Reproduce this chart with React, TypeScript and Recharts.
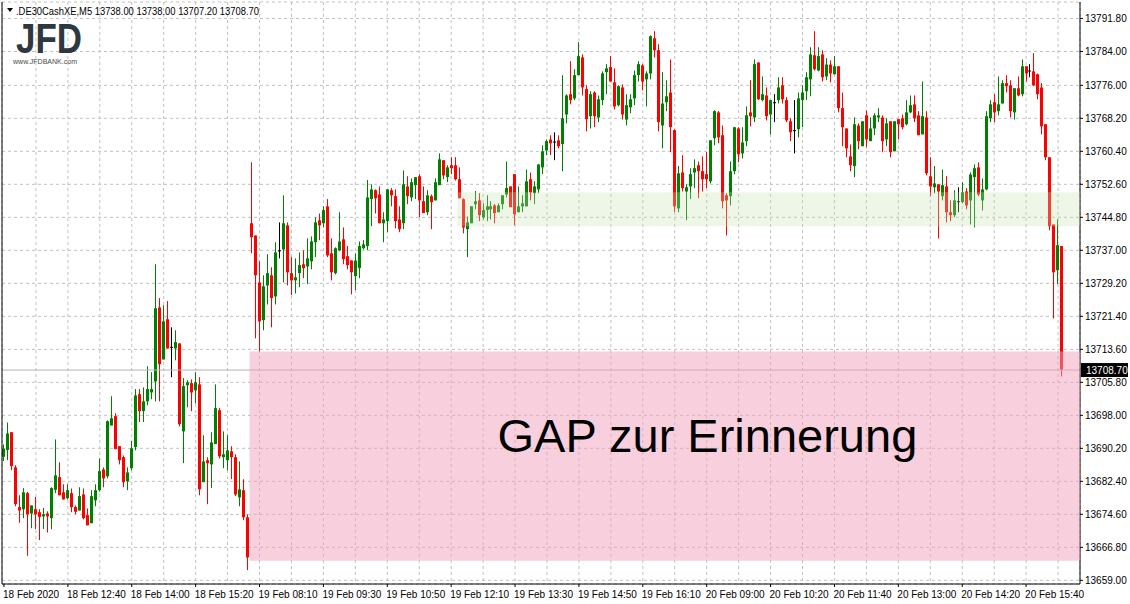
import React from 'react';
import { ComposedChart, Bar, XAxis, YAxis, CartesianGrid, ReferenceArea, ReferenceLine } from 'recharts';

// .DE30CashXE M5 candles, 18 Feb 2020 -> 20 Feb 2020 16:25
const openPrices = [
  13688.2, 13689.8, 13694.0, 13685.7, 13676.3, 13675.8, 13679.6, 13674.8, 13675.8, 13675.1,
  13674.1, 13674.8, 13673.7, 13680.4, 13683.4, 13679.8, 13678.4, 13679.6, 13676.3, 13675.5,
  13679.3, 13674.4, 13672.5, 13677.9, 13680.3, 13685.2, 13683.6, 13695.6, 13697.8, 13690.7,
  13688.1, 13682.4, 13685.5, 13690.5, 13703.0, 13699.0, 13701.3, 13703.4, 13706.0, 13723.5,
  13711.2, 13720.7, 13714.2, 13713.8, 13715.0, 13694.2, 13705.1, 13705.6, 13703.9, 13705.3,
  13682.2, 13687.4, 13686.4, 13691.2, 13699.2, 13688.1, 13687.4, 13689.5, 13688.1, 13678.6,
  13680.3, 13673.9, 13743.4, 13740.5, 13729.4, 13720.5, 13728.7, 13731.1, 13726.1, 13737.0,
  13737.2, 13742.9, 13731.6, 13729.9, 13731.6, 13733.7, 13733.2, 13734.4, 13738.9, 13744.1,
  13743.4, 13747.4, 13736.3, 13731.6, 13737.0, 13739.6, 13735.6, 13734.6, 13730.9, 13732.8,
  13737.5, 13738.0, 13749.1, 13751.2, 13750.2, 13743.4, 13743.9, 13751.2, 13749.8, 13744.3,
  13743.4, 13752.1, 13749.5, 13752.4, 13754.5, 13748.6, 13746.0, 13749.8, 13748.8, 13752.4,
  13758.3, 13754.3, 13757.1, 13757.1, 13753.8, 13749.1, 13742.0, 13743.4, 13747.9, 13748.8,
  13744.8, 13746.5, 13746.7, 13747.6, 13746.0, 13747.9, 13750.2, 13752.1, 13755.0, 13746.0,
  13747.4, 13747.4, 13753.8, 13750.5, 13751.4, 13756.6, 13760.6, 13763.2, 13762.7, 13763.0,
  13762.1, 13769.1, 13773.9, 13772.9, 13778.4, 13782.6, 13775.1, 13768.7, 13774.3, 13768.4,
  13772.5, 13779.1, 13780.3, 13776.7, 13771.3, 13775.5, 13767.9, 13770.8, 13772.9, 13778.4,
  13780.7, 13777.4, 13778.8, 13787.1, 13784.3, 13766.5, 13772.0, 13774.3, 13765.4, 13746.9,
  13755.4, 13750.9, 13752.1, 13755.4, 13757.1, 13755.7, 13755.0, 13753.3, 13763.5, 13769.6,
  13764.2, 13750.0, 13749.8, 13755.7, 13765.8, 13759.9, 13762.8, 13769.6, 13768.4, 13781.4,
  13772.5, 13773.6, 13769.1, 13772.0, 13772.5, 13776.0, 13772.5, 13767.5, 13765.4, 13765.6,
  13772.5, 13774.6, 13777.4, 13783.1, 13779.5, 13783.3, 13778.1, 13780.9, 13778.6, 13780.5,
  13770.6, 13765.8, 13759.2, 13756.9, 13766.5, 13761.6, 13768.9, 13762.8, 13765.8, 13768.4,
  13768.4, 13763.2, 13767.5, 13760.4, 13768.0, 13768.2, 13766.8, 13769.6, 13771.5, 13768.9,
  13764.4, 13768.4, 13754.5, 13751.9, 13752.6, 13749.8, 13752.1, 13746.0, 13745.3, 13748.6,
  13748.4, 13750.9, 13748.8, 13754.3, 13756.6, 13748.8, 13751.4, 13768.2, 13772.0, 13769.9,
  13771.7, 13776.5, 13776.0, 13769.6, 13775.3, 13773.9, 13780.5, 13779.5, 13779.3, 13778.6,
  13775.5, 13766.8, 13759.0, 13743.1, 13732.3, 13738.0,
];

const highPrices = [
  13691.1, 13696.3, 13694.0, 13686.2, 13679.1, 13680.8, 13679.9, 13676.7, 13678.7, 13675.8,
  13676.1, 13675.3, 13681.0, 13692.3, 13686.9, 13681.7, 13681.7, 13680.7, 13676.7, 13681.0,
  13680.7, 13676.0, 13680.3, 13681.7, 13687.8, 13685.7, 13696.8, 13702.5, 13698.5, 13690.7,
  13688.5, 13685.7, 13691.9, 13704.2, 13704.2, 13704.6, 13709.6, 13708.2, 13733.7, 13725.7,
  13724.0, 13725.0, 13718.8, 13718.1, 13715.0, 13706.8, 13706.3, 13706.5, 13708.2, 13707.0,
  13693.3, 13688.1, 13694.0, 13705.3, 13699.7, 13694.2, 13693.3, 13690.7, 13688.8, 13687.1,
  13682.9, 13674.6, 13757.8, 13740.5, 13734.4, 13731.1, 13736.1, 13733.0, 13738.9, 13743.6,
  13750.0, 13743.6, 13735.4, 13735.1, 13736.5, 13737.0, 13739.8, 13740.3, 13744.8, 13745.7,
  13747.4, 13749.1, 13739.8, 13737.7, 13746.0, 13742.4, 13738.0, 13734.6, 13736.3, 13739.1,
  13739.4, 13753.6, 13752.6, 13751.4, 13752.1, 13746.0, 13751.4, 13751.7, 13751.4, 13747.4,
  13755.9, 13754.5, 13754.0, 13754.3, 13755.0, 13752.1, 13751.2, 13750.2, 13754.0, 13759.9,
  13758.3, 13757.1, 13759.0, 13759.0, 13756.6, 13749.3, 13745.0, 13747.4, 13751.0, 13750.5,
  13748.1, 13750.0, 13748.6, 13747.9, 13748.1, 13750.0, 13758.0, 13752.1, 13755.0, 13752.1,
  13750.0, 13756.1, 13755.4, 13753.3, 13757.3, 13761.8, 13763.2, 13764.2, 13764.9, 13764.2,
  13778.4, 13773.9, 13781.7, 13779.8, 13786.2, 13783.3, 13776.0, 13774.6, 13774.6, 13773.6,
  13779.3, 13781.0, 13782.9, 13780.0, 13776.0, 13776.2, 13773.9, 13773.9, 13779.5, 13781.7,
  13781.0, 13779.3, 13787.8, 13788.8, 13785.7, 13779.1, 13777.2, 13782.1, 13765.6, 13756.9,
  13759.5, 13752.6, 13756.4, 13758.5, 13758.0, 13759.2, 13760.2, 13763.0, 13770.1, 13769.9,
  13766.5, 13750.5, 13758.0, 13766.1, 13766.1, 13766.1, 13771.0, 13777.2, 13782.1, 13781.4,
  13778.1, 13775.5, 13772.5, 13773.9, 13777.9, 13777.9, 13773.2, 13768.2, 13772.5, 13774.3,
  13776.0, 13779.1, 13785.0, 13788.8, 13785.0, 13784.3, 13782.4, 13781.9, 13782.9, 13780.5,
  13774.3, 13765.8, 13762.0, 13768.4, 13767.0, 13767.5, 13770.1, 13768.4, 13769.4, 13770.6,
  13768.9, 13768.2, 13767.5, 13767.5, 13768.0, 13769.1, 13772.5, 13773.6, 13773.6, 13769.9,
  13776.9, 13769.9, 13759.0, 13756.9, 13752.6, 13756.1, 13754.5, 13748.8, 13751.2, 13751.9,
  13753.1, 13751.7, 13755.4, 13757.3, 13757.8, 13754.0, 13769.9, 13772.5, 13773.9, 13778.1,
  13777.2, 13778.4, 13777.2, 13775.3, 13778.1, 13782.1, 13780.5, 13781.0, 13783.6, 13778.8,
  13776.5, 13766.8, 13759.0, 13743.1, 13744.3, 13738.0,
];

const lowPrices = [
  13687.2, 13687.4, 13685.0, 13676.5, 13672.6, 13673.7, 13664.8, 13671.3, 13671.1, 13668.5,
  13671.1, 13670.3, 13671.1, 13679.6, 13679.1, 13678.1, 13678.1, 13675.1, 13674.6, 13675.5,
  13673.4, 13672.0, 13672.5, 13676.5, 13680.0, 13681.0, 13683.1, 13695.6, 13690.0, 13686.4,
  13681.0, 13680.3, 13685.0, 13689.7, 13696.4, 13696.4, 13700.4, 13701.8, 13701.3, 13701.3,
  13711.2, 13713.8, 13707.0, 13711.0, 13695.4, 13686.7, 13699.9, 13699.0, 13700.8, 13679.1,
  13682.2, 13677.0, 13680.8, 13691.2, 13687.8, 13685.5, 13685.0, 13682.9, 13678.9, 13676.5,
  13673.2, 13661.4, 13736.3, 13716.2, 13713.1, 13718.1, 13724.2, 13718.8, 13724.2, 13735.1,
  13729.4, 13728.7, 13726.4, 13726.8, 13728.3, 13730.4, 13729.0, 13732.5, 13735.4, 13739.4,
  13742.4, 13735.4, 13729.9, 13731.3, 13736.8, 13733.7, 13732.5, 13726.6, 13727.6, 13730.4,
  13737.2, 13737.0, 13742.7, 13745.7, 13743.4, 13738.9, 13741.3, 13747.4, 13742.2, 13741.3,
  13742.0, 13747.9, 13748.6, 13749.1, 13744.8, 13745.8, 13745.3, 13742.0, 13748.8, 13752.4,
  13753.8, 13753.1, 13755.0, 13753.5, 13749.3, 13741.0, 13735.4, 13743.4, 13746.7, 13743.9,
  13744.3, 13743.9, 13744.3, 13743.4, 13746.0, 13746.7, 13749.5, 13747.2, 13742.9, 13746.0,
  13746.0, 13747.4, 13748.8, 13747.9, 13750.5, 13755.0, 13759.5, 13759.5, 13758.3, 13761.1,
  13755.7, 13767.0, 13771.5, 13772.5, 13778.4, 13773.6, 13765.1, 13765.8, 13766.1, 13767.3,
  13771.3, 13773.9, 13776.9, 13770.3, 13771.0, 13767.9, 13766.5, 13769.4, 13771.3, 13776.9,
  13774.8, 13771.0, 13777.4, 13782.6, 13765.1, 13761.1, 13769.9, 13760.2, 13746.0, 13746.0,
  13750.9, 13744.1, 13749.1, 13751.7, 13749.3, 13750.9, 13751.7, 13752.8, 13761.8, 13762.3,
  13746.9, 13740.5, 13747.6, 13755.0, 13757.8, 13758.7, 13761.6, 13766.3, 13767.3, 13772.5,
  13772.2, 13767.7, 13764.4, 13767.3, 13771.7, 13771.7, 13767.3, 13762.8, 13759.9, 13763.7,
  13766.1, 13772.5, 13773.4, 13779.5, 13779.3, 13776.9, 13777.2, 13776.7, 13778.6, 13769.6,
  13761.6, 13759.0, 13755.7, 13754.3, 13760.9, 13761.6, 13761.4, 13762.8, 13764.2, 13767.3,
  13760.2, 13761.6, 13759.0, 13760.4, 13763.2, 13765.6, 13766.5, 13769.4, 13767.3, 13764.2,
  13764.4, 13754.7, 13749.8, 13750.5, 13739.8, 13748.8, 13743.6, 13743.9, 13744.8, 13746.0,
  13748.1, 13746.7, 13743.1, 13742.4, 13749.8, 13746.4, 13751.2, 13767.3, 13767.3, 13768.9,
  13771.7, 13774.3, 13768.4, 13767.9, 13773.4, 13773.4, 13776.9, 13777.9, 13775.8, 13772.7,
  13764.4, 13758.3, 13741.7, 13720.9, 13729.0, 13707.2,
];

const closePrices = [
  13690.1, 13693.7, 13686.0, 13677.0, 13675.5, 13679.8, 13674.6, 13676.7, 13674.6, 13674.0,
  13674.6, 13674.1, 13680.8, 13683.8, 13679.1, 13678.1, 13680.3, 13676.3, 13675.2, 13678.9,
  13673.7, 13672.0, 13678.9, 13680.3, 13684.8, 13683.1, 13696.6, 13697.3, 13690.0, 13687.4,
  13682.2, 13684.5, 13690.2, 13702.7, 13699.0, 13701.3, 13704.2, 13704.2, 13723.3, 13710.1,
  13720.2, 13713.8, 13714.2, 13715.3, 13695.9, 13704.9, 13705.8, 13703.4, 13705.8, 13680.5,
  13687.1, 13686.7, 13691.6, 13699.7, 13688.3, 13688.8, 13689.7, 13688.1, 13679.3, 13680.5,
  13673.9, 13664.4, 13740.1, 13731.1, 13720.2, 13728.5, 13731.6, 13725.7, 13736.5, 13737.0,
  13743.4, 13731.8, 13729.9, 13730.6, 13733.5, 13732.8, 13735.1, 13739.1, 13743.6, 13742.9,
  13746.5, 13735.8, 13731.8, 13737.5, 13739.1, 13734.9, 13733.5, 13731.8, 13734.6, 13738.0,
  13738.4, 13749.5, 13751.4, 13749.3, 13743.4, 13744.3, 13751.4, 13750.0, 13743.9, 13742.0,
  13752.6, 13749.8, 13753.1, 13754.3, 13748.8, 13745.8, 13750.0, 13748.4, 13753.1, 13758.5,
  13754.7, 13756.6, 13756.4, 13753.8, 13749.3, 13742.4, 13743.6, 13747.4, 13748.6, 13745.3,
  13746.5, 13747.4, 13747.4, 13745.8, 13747.6, 13750.0, 13751.7, 13747.2, 13745.5, 13747.4,
  13748.1, 13753.3, 13750.7, 13752.1, 13757.3, 13760.4, 13762.8, 13762.3, 13762.7, 13761.6,
  13768.2, 13773.6, 13772.5, 13778.4, 13782.9, 13775.5, 13768.0, 13773.9, 13768.7, 13772.7,
  13778.8, 13780.0, 13776.9, 13771.0, 13775.8, 13769.1, 13771.3, 13772.7, 13778.4, 13781.0,
  13776.9, 13778.8, 13787.6, 13784.3, 13767.3, 13771.7, 13773.4, 13766.1, 13747.4, 13755.2,
  13751.7, 13751.9, 13755.0, 13756.4, 13755.7, 13753.8, 13753.8, 13763.0, 13769.9, 13763.7,
  13748.6, 13748.8, 13755.7, 13766.1, 13759.7, 13762.5, 13768.9, 13768.7, 13781.0, 13772.7,
  13773.9, 13768.7, 13772.5, 13772.0, 13775.5, 13772.7, 13767.7, 13764.9, 13765.4, 13772.9,
  13774.3, 13777.9, 13783.3, 13779.8, 13782.9, 13777.9, 13780.9, 13778.8, 13780.5, 13770.6,
  13766.1, 13761.1, 13757.1, 13766.8, 13762.8, 13767.5, 13763.2, 13765.8, 13768.9, 13768.9,
  13762.8, 13767.0, 13760.2, 13767.5, 13766.8, 13766.1, 13769.6, 13771.3, 13768.2, 13764.2,
  13768.7, 13755.2, 13752.1, 13752.8, 13750.9, 13752.4, 13746.0, 13745.3, 13748.8, 13748.6,
  13750.7, 13747.6, 13754.9, 13756.4, 13750.2, 13751.4, 13768.7, 13771.5, 13769.6, 13771.5,
  13776.5, 13775.8, 13769.9, 13775.3, 13773.6, 13780.5, 13778.8, 13779.5, 13776.0, 13773.9,
  13766.3, 13759.0, 13742.7, 13731.8, 13738.2, 13708.7,
];

// one label every 16 candles
const timeLabels = [
  '18 Feb 2020', '18 Feb 12:40', '18 Feb 14:00', '18 Feb 15:20', '19 Feb 08:10', '19 Feb 09:30',
  '19 Feb 10:50', '19 Feb 12:10', '19 Feb 13:30', '19 Feb 14:50', '19 Feb 16:10', '20 Feb 09:00',
  '20 Feb 10:20', '20 Feb 11:40', '20 Feb 13:00', '20 Feb 14:20', '20 Feb 15:40',
];

const priceTicks = [
  13659.0, 13666.8, 13674.6, 13682.4, 13690.2, 13698.0, 13705.8, 13713.6, 13721.4,
  13729.2, 13737.0, 13744.8, 13752.6, 13760.4, 13768.2, 13776.0, 13784.0, 13791.8,
];

const priceDomain = [13658.13, 13795.69];
const lastPrice = 13708.7;
const gapZone = [13663.6, 13713.1];
const gapStart = 62;
const greenZone = [13742.7, 13750.7];
const greenStart = 114;
const emptySlots = 4;

const data = [
  ...openPrices.map((o, i) => ({ i, o, h: highPrices[i], l: lowPrices[i], c: closePrices[i] })),
  ...Array.from({ length: emptySlots }, (_, k) => ({ i: openPrices.length + k })),
];

// vertical grid every 8 candles
const gridIdx = Array.from({ length: 33 }, (_, k) => (k + 1) * 8);
const labelIdx = timeLabels.map((_, k) => k * 16);

const FONT = '"Liberation Sans", Arial, sans-serif';

const Candle = (props: any) => {
  const { x, y, width, height, payload } = props;
  if (!payload || payload.o == null) return null;
  const { o, h, l, c } = payload;
  const top0 = Math.min(y, y + height);
  const span = Math.abs(height);
  const ppu = h > l ? span / (h - l) : 0;
  const cx = Math.floor(x + width / 2) + 0.5;
  const bTop = top0 + (h - Math.max(o, c)) * ppu;
  const bBot = top0 + (h - Math.min(o, c)) * ppu;
  const color = o === c ? '#000000' : c > o ? '#008000' : '#ff0000';
  return (
    <g>
      <line x1={cx} x2={cx} y1={top0} y2={top0 + span} stroke={color} strokeWidth={1} />
      <rect x={cx - 1.5} y={bTop} width={3} height={Math.max(1, bBot - bTop)} fill={color} />
    </g>
  );
};

const PriceTag = (props: any) => {
  const vb = props.viewBox;
  if (!vb) return null;
  const x = vb.x + vb.width + 1;
  return (
    <g>
      <rect x={x} y={vb.y - 7} width={47} height={14} fill="#000" />
      <text x={x + 5} y={vb.y + 4} fill="#fff" fontSize={10} fontFamily={FONT}>
        {lastPrice.toFixed(2)}
      </text>
    </g>
  );
};

const GapLabel = (props: any) => {
  const vb = props.viewBox;
  if (!vb) return null;
  return (
    <text x={vb.x + 248} y={vb.y + 101} fill="#000" fontSize={47} fontFamily={FONT}>
      GAP zur Erinnerung
    </text>
  );
};

const App = () => {
  return (
    <div style={{ position: 'absolute', left: 0, top: 0, width: 1130, height: 604, background: '#fff' }}>
      <ComposedChart width={1130} height={604} data={data} margin={{ top: 2, right: 0, left: 0, bottom: 0 }}>
        <CartesianGrid stroke="#c0c0c0" strokeDasharray="3 3" xAxisId="grid" />
        <XAxis
          dataKey="i"
          type="category"
          ticks={labelIdx}
          interval={0}
          height={20}
          tickSize={3}
          tickMargin={4}
          stroke="#000"
          tickFormatter={(v: number) => timeLabels[v / 16] ?? ''}
          tick={{ fill: '#000', fontSize: 10, fontFamily: FONT, textAnchor: 'start', dx: -1 }}
        />
        <XAxis xAxisId="grid" dataKey="i" type="category" ticks={gridIdx} interval={0} hide />
        <XAxis xAxisId="top" dataKey="i" type="category" orientation="top" height={0} tick={false} tickLine={false} stroke="#000" />
        <YAxis
          orientation="right"
          width={50}
          domain={priceDomain}
          allowDataOverflow
          ticks={priceTicks}
          tickSize={3}
          tickMargin={2}
          stroke="#000"
          tickFormatter={(v: number) => v.toFixed(2)}
          tick={{ fill: '#000', fontSize: 10, fontFamily: FONT }}
        />
        <YAxis yAxisId="left" orientation="left" width={2} domain={priceDomain} allowDataOverflow tick={false} tickLine={false} stroke="#000" />
        <Bar
          dataKey={(d: any) => (d.o == null ? null : [d.l, d.h])}
          shape={Candle}
          isAnimationActive={false}
        />
        <ReferenceLine y={lastPrice} stroke="#b4b4b4" label={PriceTag} />
        <ReferenceArea
          x1={greenStart}
          y1={greenZone[0]}
          y2={greenZone[1]}
          fill="#c8e4b0"
          fillOpacity={0.3}
          stroke="none"
          zIndex={1000}
        />
        <ReferenceArea
          x1={gapStart}
          y1={gapZone[0]}
          y2={gapZone[1]}
          fill="#f2a0bc"
          fillOpacity={0.5}
          stroke="none"
          zIndex={1000}
          label={GapLabel}
        />
      </ComposedChart>
      <svg width={300} height={70} style={{ position: 'absolute', left: 0, top: 0, pointerEvents: 'none' }}>
        <polygon points="7,8 13,8 10,12" fill="#000" />
        <text x={16} y={14.5} fontSize={10} fontFamily={FONT} fill="#000" textLength={243} lengthAdjust="spacingAndGlyphs">
          .DE30CashXE,M5  13738.00 13738.00 13707.20 13708.70
        </text>
        <text x={16} y={53} fontSize={42} fontWeight="bold" fontFamily={FONT} fill="#2e3841" textLength={66} lengthAdjust="spacingAndGlyphs">
          JFD
        </text>
        <text x={13} y={64} fontSize={7} fontFamily={FONT} fill="#4a4a4a" textLength={64} lengthAdjust="spacingAndGlyphs">
          www.JFDBANK.com
        </text>
      </svg>
    </div>
  );
};

export default App;
